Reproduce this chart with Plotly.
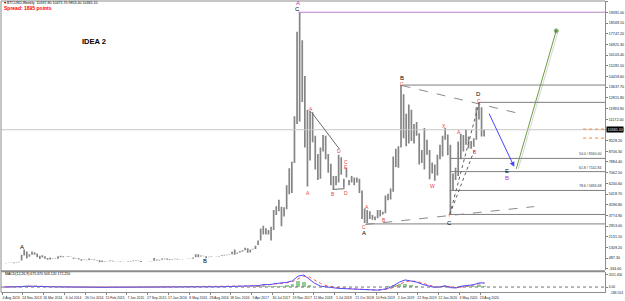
import pandas as pd
import plotly.graph_objects as go
from plotly.subplots import make_subplots

# ---------------- price data: two-week high / low ranges of BTCUSD ----------------
PERIOD_START = "2013-07-21"
high_2013 = [98, 106, 125, 140, 135, 145, 175, 215, 755, 1163, 1000, 780]
low_2013 = [85, 90, 100, 118, 120, 105, 135, 170, 300, 700, 455, 600]
high_2014 = [1000, 940, 840, 680, 710, 640, 500, 540, 470, 460, 630, 680, 630,
             640, 630, 600, 530, 510, 480, 410, 410, 360, 460, 390, 380, 340]
low_2014 = [750, 750, 550, 420, 540, 440, 360, 390, 420, 430, 440, 560, 560,
            610, 570, 570, 450, 460, 380, 280, 360, 320, 340, 350, 330, 300]
high_2015 = [320, 300, 260, 260, 300, 290, 260, 240, 245, 245, 240, 250, 265,
             310, 300, 290, 265, 240, 240, 250, 270, 500, 390, 370, 470, 465]
low_2015 = [170, 200, 210, 230, 255, 240, 240, 215, 220, 230, 225, 220, 240,
            260, 270, 255, 200, 225, 225, 230, 245, 280, 300, 310, 370, 410]
high_2016 = [460, 420, 405, 445, 440, 420, 430, 430, 470, 460, 540, 780, 780,
             700, 680, 630, 590, 610, 610, 615, 650, 720, 750, 760, 790, 980]
low_2016 = [370, 360, 360, 400, 390, 405, 410, 415, 440, 445, 440, 560, 550,
            610, 640, 480, 560, 570, 600, 600, 615, 650, 690, 720, 750, 780]
high_2017 = [1150, 930, 1030, 1100, 1280, 1250, 1150, 1220, 1450, 1850, 2760, 2980, 2780,
             2650, 2900, 4200, 4480, 4980, 4450, 4400, 6100, 7400, 7900, 11400, 17900, 19400, 17250]
low_2017 = [750, 820, 920, 990, 1100, 900, 920, 1150, 1200, 1500, 1850, 2300, 2300,
            2300, 1850, 2650, 3800, 4100, 2950, 3700, 4250, 5400, 5500, 7800, 10800, 11000, 12500]
high_2018 = [14500, 11900, 11800, 11700, 9900, 8500, 9000, 9950, 9900, 8500, 7750, 6800, 6800,
             8450, 8250, 6600, 7400, 6500, 6800, 6700, 6700, 6600, 5700, 4300, 4200, 4100]
low_2018 = [9000, 6000, 8000, 9400, 7300, 6500, 6600, 8700, 8100, 7050, 6100, 5800, 6100,
            6300, 6900, 5900, 6700, 6100, 6300, 6100, 6300, 5500, 3500, 3200, 3200, 3500]
high_2019 = [3800, 3700, 4200, 4200, 4050, 5300, 5450, 5850, 8300, 8900, 9100, 13800, 13100,
             11600, 12300, 11900, 10800, 10950, 10100, 8800, 10500, 9600, 8800, 7850, 7700, 8450]
low_2019 = [3450, 3400, 3550, 3700, 3850, 3950, 4950, 5000, 5600, 7500, 7450, 9000, 9700,
            9100, 9300, 9500, 9300, 9900, 7700, 7800, 7300, 8450, 6550, 7000, 6450, 6850]
high_2020 = [9200, 9900, 10500, 10000, 9200, 7000, 7450, 9450, 10050, 9950, 10400, 9850,
             9500, 9700, 12100, 12470, 12100, 10400]
low_2020 = [8100, 8300, 9600, 8400, 3850, 5700, 6500, 6800, 8100, 8700, 9200, 8950,
            8900, 9050, 9600, 11150, 9850, 9850]

highs = high_2013 + high_2014 + high_2015 + high_2016 + high_2017 + high_2018 + high_2019 + high_2020
lows = low_2013 + low_2014 + low_2015 + low_2016 + low_2017 + low_2018 + low_2019 + low_2020

# ---------------- indicator (monthly readings) ----------------
IND_START = "2013-08-01"
macd_main = [5, 8, 12, 60, 150,
             160, 120, 80, 40, 20, 20, 20, 5, -10, -30, -30, -30,
             -50, -50, -30, -20, -15, -5, 10, 5, -5, 5, 30, 40,
             35, 25, 20, 15, 20, 70, 80, 50, 30, 30, 45, 70,
             110, 110, 120, 120, 230, 400, 380, 560, 600, 750, 1000, 1750,
             1950, 1200, 600, 150, 0, -150, -200, -250, -300, -300, -400, -520,
             -530, -500, -400, -200, 250, 800, 1150, 1000, 800, 450, 200, -30,
             0, 200, -100, -150, 150, 300, 350, 650, 680]
macd_signal = [3, 6, 10, 30, 90,
               140, 140, 110, 70, 40, 25, 20, 12, 0, -20, -30, -30,
               -40, -50, -40, -25, -18, -10, 0, 5, 0, 0, 15, 35,
               38, 30, 22, 18, 17, 45, 70, 65, 40, 30, 38, 55,
               90, 105, 115, 118, 170, 320, 380, 470, 560, 680, 870, 1350,
               1750, 1600, 1100, 600, 250, 50, -100, -180, -240, -280, -330, -430,
               -500, -510, -450, -320, -50, 400, 850, 1000, 900, 650, 350, 100,
               0, 100, 50, -100, 0, 200, 300, 480, 560]
macd_hist = [0, 0, 0, 20, 60,
             30, 0, 0, 0, 0, 0, 0, 0, 0, 0, 0, 0,
             0, 0, 0, 0, 0, 0, 10, 0, 0, 5, 20, 15,
             0, 0, 0, 0, 5, 30, 15, 0, 0, 5, 10, 20,
             30, 20, 20, 20, 80, 150, 80, 180, 180, 300, 500, 1000,
             800, 300, 0, 0, 0, 0, 0, 0, 0, 0, 0, 0,
             0, 0, 0, 150, 350, 500, 450, 250, 80, 0, 0, 0,
             50, 120, 0, 0, 120, 150, 120, 220, 200]

# ---------------- axis labels ----------------
price_ticks = [-334.60, 487.30, 1309.20, 2131.10, 2953.00, 3774.90, 4596.80, 5418.70,
               6240.60, 7062.50, 7884.40, 8706.30, 9528.20, 10350.10, 11172.00,
               11993.90, 12815.80, 13637.70, 14459.60, 15281.50, 16103.40, 16925.30,
               17747.20, 18569.10, 19391.00, 20212.90]
ind_ticks = [2011.456, 0.0]
ind_tick_text = ["2011.456", "0.00"]
ind_min_label = -186.554
date_ticks = ["2013-08-04", "2013-11-24", "2014-03-16", "2014-07-06", "2014-10-26",
              "2015-02-15", "2015-06-07", "2015-09-27", "2016-01-17", "2016-05-08",
              "2016-08-28", "2016-12-18", "2017-04-09", "2017-07-30", "2017-11-19",
              "2018-03-11", "2018-07-01", "2018-10-21", "2019-02-10", "2019-06-02",
              "2019-09-22", "2020-01-12", "2020-05-03", "2020-08-23"]
date_labels = ["4 Aug 2013", "24 Nov 2013", "16 Mar 2014", "6 Jul 2014", "26 Oct 2014",
               "15 Feb 2015", "7 Jun 2015", "27 Sep 2015", "17 Jan 2016", "8 May 2016",
               "28 Aug 2016", "18 Dec 2016", "9 Apr 2017", "30 Jul 2017", "19 Nov 2017",
               "11 Mar 2018", "1 Jul 2018", "21 Oct 2018", "10 Feb 2019", "2 Jun 2019",
               "22 Sep 2019", "12 Jan 2020", "3 May 2020", "23 Aug 2020"]

# ---------------- chart levels and analysis drawings ----------------
X_START, X_END = "2013-07-29", "2022-06-26"
bid_price = 10365.10
peak = ("2017-12-17", 19400)
levels = [("2019-06-26", 13800), ("2020-08-17", 12470), ("2020-03-12", 3850), ("2018-12-15", 3122)]
fib_levels = [("2020-03-12", 8160, "50.0 / 8160.00"),
              ("2020-03-12", 7143, "61.8 / 7142.84"),
              ("2020-03-12", 5695, "78.6 / 5694.68")]
order_levels = [("2022-02-28", 10413), ("2022-02-28", 9725)]
solid_lines = [("2018-02-26", 11710, "2018-07-26", 8884),
               ("2018-06-19", 5775, "2018-08-23", 5828)]
dashed_lines = [("2019-06-26", 13770, "2021-04-06", 11557),
                ("2018-12-13", 3078, "2021-06-09", 4453)]
dotted_lines = [("2020-03-12", 3850, "2020-08-17", 12470),
                ("2020-03-12", 3850, "2020-07-25", 8900)]
blue_path = (["2020-10-06", "2021-02-22"], [11710, 7509])
green_path = (["2021-03-05", "2021-10-06"], [7355, 17972])

BLACK, RED, PURPLE = "#000000", "#e8413c", "#b03ab0"
wave_labels = [
    ("A", "2013-11-19", 1321, BLACK, 6), ("B", "2016-07-30", 252, BLACK, 6),
    ("A", "2017-12-13", 20073, PURPLE, 6), ("C", "2017-12-13", 19656, BLACK, 6),
    ("A", "2018-12-08", 2391, BLACK, 6), ("C", "2018-12-08", 2849, RED, 5),
    ("B", "2019-07-01", 14305, BLACK, 6), ("C", "2019-07-01", 13848, RED, 5),
    ("C", "2020-03-10", 3155, BLACK, 6), ("Y", "2020-03-12", 3789, RED, 4),
    ("D", "2020-08-13", 13079, BLACK, 6), ("C", "2020-08-17", 12588, RED, 5),
    ("E", "2021-01-16", 7203, BLACK, 6), ("B", "2021-01-16", 6668, PURPLE, 6),
    ("A", "2018-02-21", 11939, RED, 5), ("D", "2018-07-26", 8708, RED, 5),
    ("C", "2018-09-02", 7890, RED, 5), ("E", "2018-09-02", 7470, RED, 5),
    ("A", "2018-02-05", 5522, RED, 5), ("B", "2018-06-19", 5446, RED, 5),
    ("D", "2018-09-02", 5522, RED, 5), ("A", "2018-12-24", 4453, RED, 5),
    ("B", "2019-03-26", 3460, RED, 5), ("X", "2020-02-12", 10640, RED, 5),
    ("W", "2019-12-09", 6057, RED, 5), ("A", "2020-05-03", 10182, RED, 5),
    ("B", "2020-07-23", 8654, RED, 5),
]

FONT = "Liberation Sans, Arial, sans-serif"

# ---------------- figure ----------------
fig = make_subplots(rows=2, cols=1, shared_xaxes=True, vertical_spacing=0.0)

bar_dates = pd.date_range(PERIOD_START, periods=len(highs), freq="14D") + pd.Timedelta(days=7)
bx, by = [], []
for d, h, l in zip(bar_dates, highs, lows):
    bx += [d, d, None]
    by += [l, h, None]
fig.add_trace(go.Scatter(x=bx, y=by, mode="lines", line=dict(color="#858585", width=1.7),
                         hoverinfo="skip", showlegend=False), row=1, col=1)

gx = pd.to_datetime(green_path[0])
fig.add_trace(go.Scatter(x=gx + pd.Timedelta(days=11), y=green_path[1], mode="lines",
                         line=dict(color="#d6d6d6", width=1), hoverinfo="skip",
                         showlegend=False), row=1, col=1)
fig.add_trace(go.Scatter(x=gx, y=green_path[1], mode="lines+markers",
                         line=dict(color="#6a9e40", width=1),
                         marker=dict(size=[0, 4], color="#2e6b1e"),
                         hoverinfo="skip", showlegend=False), row=1, col=1)

ind_dates = pd.date_range(IND_START, periods=len(macd_main), freq="MS") + pd.Timedelta(days=14)
fig.add_trace(go.Bar(x=ind_dates, y=macd_hist, width=20 * 24 * 3600 * 1000,
                     marker=dict(color="rgba(90,175,90,0.65)", line=dict(width=0)),
                     hoverinfo="skip", showlegend=False), row=2, col=1)
fig.add_trace(go.Scatter(x=ind_dates, y=macd_signal, mode="lines",
                         line=dict(color="#ff5050", width=1, dash="dot"),
                         hoverinfo="skip", showlegend=False), row=2, col=1)
fig.add_trace(go.Scatter(x=ind_dates, y=macd_main, mode="lines",
                         line=dict(color="#4a4aff", width=1),
                         hoverinfo="skip", showlegend=False), row=2, col=1)

shapes = []
GRAY = "#7f7f7f"
shapes.append(dict(type="line", xref="x domain", yref="y", x0=0, x1=1, y0=bid_price, y1=bid_price,
                   line=dict(color="#c8c8c8", width=1)))
shapes.append(dict(type="line", xref="x", yref="y", x0=peak[0], x1=X_END, y0=peak[1], y1=peak[1],
                   line=dict(color="#bb80c6", width=1)))
for d, p in levels:
    shapes.append(dict(type="line", xref="x", yref="y", x0=d, x1=X_END, y0=p, y1=p,
                       line=dict(color=GRAY, width=1)))
for d, p, _ in fib_levels:
    shapes.append(dict(type="line", xref="x", yref="y", x0=d, x1=X_END, y0=p, y1=p,
                       line=dict(color=GRAY, width=1)))
for d, p in order_levels:
    shapes.append(dict(type="line", xref="x", yref="y", x0=d, x1=X_END, y0=p, y1=p,
                       line=dict(color="#ff8030", width=1, dash="dot")))
for x0, y0, x1, y1 in solid_lines:
    shapes.append(dict(type="line", xref="x", yref="y", x0=x0, x1=x1, y0=y0, y1=y1,
                       line=dict(color="#6a6a6a", width=1)))
for x0, y0, x1, y1 in dashed_lines:
    shapes.append(dict(type="line", xref="x", yref="y", x0=x0, x1=x1, y0=y0, y1=y1,
                       line=dict(color="#8a8a8a", width=1, dash="dash")))
for x0, y0, x1, y1 in dotted_lines:
    shapes.append(dict(type="line", xref="x", yref="y", x0=x0, x1=x1, y0=y0, y1=y1,
                       line=dict(color="#606060", width=1, dash="dot")))
shapes.append(dict(type="line", xref="x2 domain", yref="y2", x0=0, x1=1, y0=0, y1=0,
                   line=dict(color="#707070", width=1, dash="dot")))
shapes.append(dict(type="line", xref="paper", yref="paper", x0=0, x1=1, y0=1, y1=1,
                   line=dict(color="#8c8c8c", width=1)))
shapes.append(dict(type="line", xref="paper", yref="paper", x0=0, x1=0, y0=0, y1=1,
                   line=dict(color="#8c8c8c", width=1)))
shapes.append(dict(type="line", xref="paper", yref="paper", x0=0, x1=1, y0=0.0715, y1=0.0715,
                   line=dict(color="#8c8c8c", width=2)))

annotations = []
for t, d, p, c, s in wave_labels:
    annotations.append(dict(x=d, y=p, xref="x", yref="y", text=t, showarrow=False,
                            font=dict(family=FONT, size=s, color=c)))
for d, p, t in fib_levels:
    annotations.append(dict(x=X_END, y=p, xref="x", yref="y", text=t, showarrow=False,
                            xanchor="right", yanchor="bottom", xshift=-2,
                            font=dict(family=FONT, size=3.5, color="#333333")))
annotations.append(dict(x=blue_path[0][1], y=blue_path[1][1], ax=blue_path[0][0], ay=blue_path[1][0],
                        xref="x", yref="y", axref="x", ayref="y", text="", showarrow=True,
                        arrowhead=2, arrowsize=1, arrowwidth=1, arrowcolor="#4545ff"))
annotations += [
    dict(x=0, y=(294 - 3.5) / 293, xref="paper", yref="paper", xanchor="left", yanchor="middle",
         xshift=1, showarrow=False,
         text="▾ BTCUSD,Weekly  10337.80 10475.70 9853.40 10365.10",
         font=dict(family=FONT, size=3.6, color="#000000")),
    dict(x=0, y=(294 - 8.5) / 293, xref="paper", yref="paper", xanchor="left", yanchor="middle",
         xshift=1, showarrow=False, text="<b>Spread: 1895 points</b>",
         font=dict(family=FONT, size=5, color="#ff0000")),
    dict(x=(80 - 1) / 605, y=(294 - 35) / 293, xref="paper", yref="paper", showarrow=False,
         text="<b>IDEA 2</b>", font=dict(family=FONT, size=7.5, color="#000000")),
    dict(x=0, y=(294 - 275.5) / 293, xref="paper", yref="paper", xanchor="left", yanchor="middle",
         xshift=2, showarrow=False, text="MACD(12,26,9) 675.370 503.120 172.250",
         font=dict(family=FONT, size=3.5, color="#000000")),
    dict(x=1, y=bid_price, xref="paper", yref="y", xanchor="left", yanchor="middle", xshift=1,
         showarrow=False, text="10365.10", bgcolor="#000000", borderpad=0.5,
         font=dict(family=FONT, size=3.7, color="#ffffff")),
    dict(x=1, y=ind_min_label, xref="paper", yref="y2", xanchor="left", yanchor="top", xshift=3,
         yshift=-0.5, showarrow=False, text="-186.554",
         font=dict(family=FONT, size=3.3, color="#222222")),
]

tick_font = dict(family=FONT, size=3.7, color="#222222")
fig.update_layout(
    width=625, height=301, margin=dict(l=1, r=19, t=1, b=7),
    paper_bgcolor="white", plot_bgcolor="white", showlegend=False, bargap=0,
    shapes=shapes, annotations=annotations,
    xaxis=dict(range=[X_START, X_END], showticklabels=False, showgrid=False, zeroline=False,
               showline=False, ticks=""),
    xaxis2=dict(range=[X_START, X_END], tickmode="array", tickvals=date_ticks, ticktext=date_labels,
                tickangle=0, ticks="outside", ticklen=2, tickcolor="#808080",
                tickfont=dict(family=FONT, size=3.4, color="#222222"),
                ticklabelshift=9, ticklabelstandoff=0, showgrid=False, zeroline=False,
                showline=True, linecolor="#8c8c8c", linewidth=1),
    yaxis=dict(domain=[0.074, 1], range=[-458, 20264], side="right", tickmode="array",
               tickvals=price_ticks, ticktext=[f"{v:.2f}" for v in price_ticks],
               ticks="outside", ticklen=2, tickcolor="#808080", tickfont=tick_font,
               showgrid=False, zeroline=False, showline=True, linecolor="#8c8c8c"),
    yaxis2=dict(domain=[0, 0.068], range=[-804, 2397], side="right", tickmode="array",
                tickvals=ind_ticks, ticktext=ind_tick_text, ticks="outside", ticklen=2,
                tickcolor="#808080", tickfont=dict(family=FONT, size=3.3, color="#222222"),
                showgrid=False, zeroline=False, showline=True, linecolor="#8c8c8c"),
)

fig.write_html("out.html")
